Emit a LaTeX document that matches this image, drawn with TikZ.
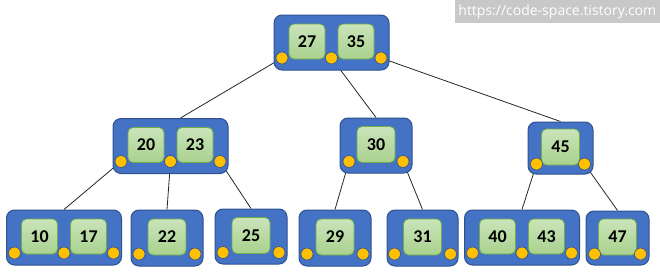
\documentclass[tikz,border=0pt]{standalone}
\usepackage{fontspec}
\setmainfont{Carlito}
\newfontfamily\urlfont{Open Sans}
\definecolor{boxblue}{HTML}{4472C4}
\definecolor{boxedge}{HTML}{2F528F}
\definecolor{keytop}{HTML}{CAE4BA}
\definecolor{keybot}{HTML}{A9D18E}
\definecolor{keyedge}{HTML}{70AD47}
\definecolor{dotfill}{HTML}{FFC000}
\definecolor{urlgray}{HTML}{C8C8C8}
\pgfdeclarelayer{bg}
\pgfsetlayers{bg,main}
\tikzset{
 bbox/.style={draw=boxedge, fill=boxblue, line width=1pt, rounded corners=8pt, inner sep=0pt, minimum height=55pt},
 kbox/.style={draw=keyedge, line width=0.8pt, top color=keytop, bottom color=keybot, rounded corners=5pt, inner sep=0pt, font=\fontsize{18}{18}\selectfont\bfseries},
 kdot/.style={circle, draw=boxedge, line width=0.6pt, fill=dotfill, minimum size=12pt, inner sep=0pt},
 treeedge/.style={draw=black!85, line width=0.8pt},
}
\newcommand\twokey[5]{%
 \node[bbox, minimum width=115pt] (#1) at (#2,#3) {};
 \node[kbox, minimum width=36pt, minimum height=35pt] (#1ka) at (#2-24.5,#3-1) {#4};
 \node[kbox, minimum width=36pt, minimum height=35pt] (#1kb) at (#2+24.5,#3-1) {#5};
 \node[kdot] (#1d1) at (#2-49.5,#3+15.5) {};
 \node[kdot] (#1d2) at (#2,#3+15.5) {};
 \node[kdot] (#1d3) at (#2+49.5,#3+15.5) {};
}
\newcommand\onekey[7]{%
 \node[bbox, minimum width=#5pt, minimum height=#7pt] (#1) at (#2,#3) {};
 \node[kbox, minimum width=38pt, minimum height=36pt] (#1ka) at (#2,#3-1) {#4};
 \node[kdot] (#1d1) at (#2-#6,#3+16) {};
 \node[kdot] (#1d2) at (#2+#6,#3+16) {};
}
\begin{document}
\begin{tikzpicture}[x=1pt,y=-1pt]
\useasboundingbox (0,0) rectangle (660,273);
\node[fill=urlgray, text=white, font=\urlfont\fontsize{14}{14}\selectfont, inner sep=0pt, minimum height=23pt, minimum width=205pt, anchor=north east] (url) at (660,0) {https://code-space.tistory.com};

\twokey{root}{331.5}{42.5}{27}{35}
\twokey{nA}{170.5}{146}{20}{23}
\onekey{nB}{376}{145.5}{30}{72}{27}{55}
\onekey{nC}{560.5}{148}{45}{65}{24}{52}
\twokey{nD}{64}{237.5}{10}{17}
\onekey{nE}{167}{238}{22}{72}{28}{56}
\onekey{nF}{251}{236.5}{25}{72}{28}{55}
\onekey{nG}{335}{238}{29}{72}{28}{56}
\onekey{nH}{422.5}{238}{31}{71}{28}{56}
\twokey{nI}{522}{237.5}{40}{43}
\onekey{nJ}{617.5}{238}{47}{63}{23}{54}

\begin{pgfonlayer}{bg}
\draw[treeedge] (rootd1.center) -- ([xshift=10pt]nA.north);
\draw[treeedge] (rootd2.center) -- (nB.north);
\draw[treeedge] (rootd3.center) -- (nC.north);
\draw[treeedge] (nAd1.center) -- (nD.north);
\draw[treeedge] (nAd2.center) -- (nE.north);
\draw[treeedge] (nAd3.center) -- (nF.north);
\draw[treeedge] (nBd1.center) -- (nG.north);
\draw[treeedge] (nBd2.center) -- (nH.north);
\draw[treeedge] (nCd1.center) -- (nI.north);
\draw[treeedge] (nCd2.center) -- (nJ.north);
\end{pgfonlayer}
\end{tikzpicture}
\end{document}
